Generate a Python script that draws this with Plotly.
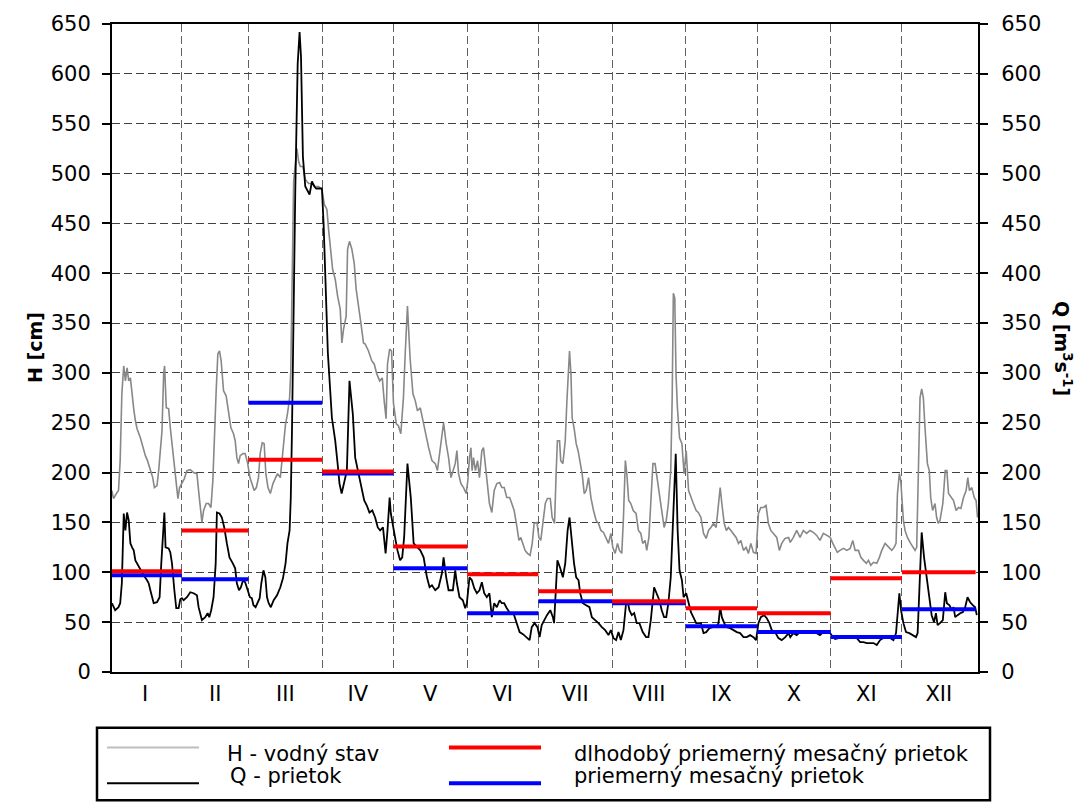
import plotly.graph_objects as go

# ---------------- data ----------------
MONTHS = ["I", "II", "III", "IV", "V", "VI", "VII", "VIII", "IX", "X", "XI", "XII"]
MONTH_EDGES = [0, 31, 59, 90, 120, 151, 181, 212, 243, 273, 304, 334, 365]
LONGTERM_MEAN = [101, 142, 213, 201, 126, 98, 81, 71, 64, 59, 94, 100]   # dlhodobý priemerný mesačný prietok
MONTH_MEAN = [97, 93, 270, 199, 104, 59, 71, 69, 46, 40, 35, 63]        # priemerný mesačný prietok

Q_DAY = [1.5, 2.9, 4.3, 5.0, 5.7, 6.5, 7.2, 7.9, 8.6, 9.3, 10.0, 10.7, 11.4, 12.1, 13.5, 14.9, 16.3, 17.0, 17.7,
         19.1, 20.5, 21.6, 22.3, 23.0, 23.6, 24.1, 25.4, 26.1, 26.8, 27.8, 28.6, 29.6, 30.3, 31.0,
         31.7, 33.1, 34.5, 35.9, 37.3, 38.0, 39.4, 40.8, 41.8, 42.5, 43.3, 44.3, 45.2, 45.7, 46.8, 47.8,
         48.8, 49.9, 51.0, 52.4, 53.4, 54.1, 55.0, 55.8, 56.7, 57.6, 58.8, 59.6,
         60.4, 61.1, 62.0, 62.8, 63.7, 64.4, 65.3, 66.1, 66.8, 67.5, 68.4, 69.6, 71.0, 72.4, 73.5, 74.6,
         75.4, 76.3, 76.8, 77.3, 77.7, 78.7, 79.7, 80.5, 81.1, 81.9, 82.9, 83.9, 84.7, 85.7, 86.7, 87.5,
         88.5, 89.9, 90.6, 91.3, 92.0, 92.4, 94.1, 95.5, 96.5, 97.3, 98.2, 99.3, 100.4, 101.5, 102.9,
         103.9, 105.3, 106.3, 107.7, 108.8, 109.9, 111.1, 112.3, 113.4, 114.4, 115.6, 116.7, 117.5,
         118.4, 118.9, 119.8, 120.9, 121.7, 122.8, 123.7, 124.5, 125.9, 127.3, 128.5, 129.9, 131.3,
         132.7, 134.1, 135.2, 136.2, 137.6, 139.0, 140.4, 141.1, 142.2, 143.2, 145.0, 146.0, 146.7,
         147.8, 149.2, 150.2, 150.9, 152.0, 153.0, 154.0, 155.1, 156.2, 157.2, 158.2, 159.3, 160.4,
         161.4, 162.4, 163.5, 164.7, 165.6, 166.6, 167.7, 169.1, 170.5, 172.0, 173.1, 174.5, 175.9,
         177.3, 178.2, 179.4, 180.6, 181.5, 182.4, 183.4, 184.6, 186.0, 187.1, 187.6, 188.5, 189.0,
         190.2, 191.3, 192.3, 193.3, 194.1, 195.1, 196.0, 196.9, 197.9, 198.6, 199.7, 201.1, 202.5,
         203.5, 204.9, 206.3, 207.7, 209.1, 210.5, 211.5, 212.6, 213.7, 214.7, 215.7, 216.8, 217.9,
         218.5, 219.3, 220.3, 221.3, 222.4, 223.5, 224.9, 226.3, 227.3, 228.3, 229.7, 230.8, 231.9,
         232.9, 233.9, 234.8, 235.7, 236.7, 237.6, 238.3, 238.8, 239.6, 240.4, 241.4, 242.1, 243.2,
         244.2, 245.2, 246.2, 247.4, 248.3, 249.4, 250.5, 251.6, 253.0, 254.4, 255.8, 256.8, 257.5,
         258.2, 259.2, 260.3, 261.7, 263.1, 264.5, 265.9, 267.3, 268.7, 270.1, 271.5, 272.6, 273.6,
         274.6, 276.0, 277.1, 278.2, 279.2, 280.6, 282.0, 283.4, 284.9, 286.3, 287.0, 288.3, 289.7,
         291.1, 292.5, 293.9, 295.3, 296.7, 298.1, 299.5, 300.9, 302.3, 303.8, 304.9, 305.9, 307.3,
         308.6, 310.8, 312.9, 315.0, 316.4, 317.8, 319.2, 320.6, 322.0, 323.4, 324.8, 326.2, 327.6,
         329.0, 330.4, 331.5, 332.9, 333.6, 334.6, 335.7, 337.1, 338.5, 339.9, 340.6, 341.3, 342.3,
         343.3, 344.4, 345.5, 346.5, 347.5, 348.3, 349.0, 350.0, 351.2, 352.2, 352.9, 354.0, 355.0,
         355.7, 356.4, 357.4, 358.5, 359.6, 360.6, 361.6, 362.7, 363.8, 364.8, 365.5]
Q_VAL = [69, 62, 65, 69, 89, 159, 142, 160, 152, 129, 125, 122, 112, 109, 102, 97, 92, 89, 82,
         69, 70, 75, 109, 142, 160, 125, 124, 120, 109, 82, 64, 64, 73, 74,
         72, 75, 80, 79, 77, 65, 52, 55, 59, 55, 62, 75, 109, 160, 159, 155,
         145, 129, 115, 109, 104, 89, 82, 85, 92, 90, 82, 75,
         74, 67, 65, 69, 74, 89, 102, 95, 75, 69, 65, 72, 77, 85, 94, 109,
         129, 142, 175, 242, 320, 484, 610, 642, 617, 517, 487, 482, 479, 492, 487, 485,
         485, 485, 450, 400, 350, 320, 255, 232, 209, 189, 179, 189, 202, 292, 259,
         215, 199, 185, 172, 167, 160, 162, 155, 145, 142, 145, 119, 142,
         175, 159, 145, 132, 122, 112, 115, 135, 209, 175, 129, 125, 122,
         115, 95, 85, 87, 82, 85, 99, 115, 95, 82, 82, 102, 89,
         75, 72, 64, 69, 95, 92, 84, 79, 82, 90, 79, 75, 79,
         55, 69, 65, 72, 69, 69, 64, 59, 59, 49, 40, 38, 35,
         32, 45, 49, 45, 35, 47, 52, 57, 62, 55, 49, 92, 112,
         104, 95, 109, 142, 155, 129, 109, 95, 92, 79, 69, 67, 65,
         55, 52, 49, 45, 42, 37, 42, 34, 32, 40, 32, 42, 69,
         72, 62, 57, 59, 49, 49, 40, 35, 35, 52, 85, 79, 72,
         62, 55, 55, 69, 95, 142, 192, 219, 142, 102, 92, 75, 79,
         69, 60, 55, 49, 49, 49, 39, 40, 44, 45, 45, 49, 65,
         55, 49, 45, 44, 42, 40, 39, 35, 35, 37, 35, 32, 49,
         55, 57, 54, 49, 42, 40, 34, 32, 35, 39, 35, 39, 37,
         40, 39, 40, 39, 40, 39, 37, 40, 39, 39, 35, 33, 34,
         34, 35, 34, 34, 30, 30, 29, 29, 29, 27, 32, 34, 34,
         34, 32, 39, 79, 62, 49, 40, 39, 37, 35, 39, 82, 140,
         115, 92, 75, 57, 50, 59, 47, 49, 52, 80, 69, 67, 62,
         65, 55, 57, 59, 60, 65, 75, 70, 67, 65, 57]

H_DAY = [1.5, 2.2, 3.4, 4.3, 5.0, 5.7, 6.5, 7.2, 7.9, 8.6, 9.3, 10.0, 10.7, 11.4, 12.1, 13.5, 14.6, 15.6,
         16.5, 17.7, 18.7, 19.4, 20.5, 21.2, 21.9, 22.6, 23.3, 23.7, 24.4, 25.4, 26.1, 26.8, 27.8,
         28.6, 29.3, 30.0, 31.0, 32.0, 33.1, 34.5, 35.9, 37.3, 38.0, 38.7, 39.4, 40.1, 41.2, 42.2,
         43.2, 44.0, 44.7, 45.4, 46.1, 46.8, 47.5, 48.5, 49.6, 50.6, 51.6, 52.7, 53.4, 54.1, 54.8,
         55.5, 56.7, 57.6, 58.6, 59.6, 60.4, 61.4, 62.3, 63.2, 63.9, 64.8, 65.6, 66.3, 67.2, 68.2,
         69.3, 70.3, 71.2, 72.4, 73.1, 73.8, 74.6, 75.4, 76.3, 76.8, 77.3, 78.0, 79.4, 80.1, 80.8,
         81.9, 82.9, 84.3, 85.7, 87.1, 88.5, 89.9, 90.9, 92.0, 92.7, 93.4, 94.4, 95.5, 96.5, 97.6,
         98.3, 99.0, 100.1, 100.7, 101.5, 102.5, 103.5, 104.3, 105.3, 106.3, 107.4, 108.1, 109.5,
         110.9, 111.9, 113.0, 114.2, 115.3, 116.1, 116.9, 117.5, 118.4, 119.2, 120.0, 121.2, 122.1,
         123.1, 124.2, 125.0, 125.9, 127.0, 128.2, 129.2, 130.1, 131.3, 132.4, 133.4, 134.8, 136.2,
         137.6, 138.5, 139.7, 141.1, 142.2, 143.2, 144.2, 145.0, 146.0, 146.7, 147.4, 148.4, 149.5,
         150.6, 151.3, 152.0, 152.6, 153.1, 153.7, 154.5, 155.4, 156.2, 157.2, 157.9, 158.7, 159.6,
         160.4, 161.4, 162.4, 163.5, 164.7, 165.6, 166.6, 167.7, 168.9, 169.8, 170.8, 172.0, 172.8,
         173.6, 174.5, 175.4, 176.4, 177.5, 178.4, 179.2, 180.4, 181.2, 182.0, 182.9, 183.9, 184.8,
         186.0, 186.8, 187.8, 188.5, 189.0, 189.9, 190.4, 191.3, 192.3, 193.0, 193.7, 194.1, 194.7,
         195.2, 196.0, 196.9, 197.7, 198.6, 199.4, 200.3, 201.1, 202.1, 203.1, 204.2, 205.3, 206.3,
         207.3, 208.4, 209.5, 210.5, 211.5, 212.3, 213.3, 214.3, 215.1, 216.1, 216.8, 217.6, 218.2,
         219.0, 219.9, 220.9, 222.1, 223.1, 224.1, 224.9, 225.9, 226.6, 227.5, 228.3, 229.2, 230.1,
         231.1, 231.9, 232.9, 233.9, 234.8, 235.7, 236.7, 237.3, 237.8, 238.4, 238.9, 239.5, 240.4,
         241.4, 242.3, 243.2, 244.2, 245.2, 246.2, 247.4, 248.3, 249.4, 250.5, 251.6, 252.6, 253.6,
         254.7, 255.8, 256.8, 257.5, 258.2, 259.2, 260.1, 261.0, 262.0, 263.1, 264.2, 265.2, 266.2,
         267.3, 268.4, 269.4, 270.4, 271.5, 272.6, 273.6, 274.6, 275.7, 276.8, 277.8, 278.8, 279.9,
         281.3, 282.4, 283.4, 284.8, 286.3, 287.0, 288.3, 289.7, 291.1, 292.5, 293.9, 295.3, 296.7,
         298.1, 299.5, 300.9, 302.3, 303.8, 304.9, 305.9, 306.8, 307.9, 309.4, 310.8, 312.2, 313.3,
         314.3, 315.7, 316.7, 317.8, 319.0, 319.9, 320.9, 322.0, 323.4, 324.5, 325.5, 326.9, 328.3,
         329.7, 330.7, 331.5, 332.1, 332.9, 333.5, 334.1, 334.6, 335.3, 336.3, 337.4, 338.5, 339.5,
         340.2, 340.9, 341.6, 342.3, 343.0, 343.7, 344.7, 345.5, 346.1, 346.9, 347.9, 348.6, 349.3,
         350.0, 351.2, 352.2, 352.9, 353.6, 354.6, 355.7, 356.8, 357.8, 358.8, 359.9, 361.0, 361.7,
         362.4, 363.4, 364.4, 365.2, 365.8]
H_VAL = [182, 174, 179, 182, 212, 279, 307, 292, 305, 292, 295, 275, 264, 252, 244, 235, 225, 217,
         212, 202, 195, 185, 187, 202, 219, 242, 299, 307, 265, 264, 245, 229, 202,
         185, 174, 185, 190, 194, 202, 203, 200, 199, 182, 162, 150, 162, 169, 169,
         165, 192, 242, 282, 319, 322, 312, 282, 277, 259, 245, 239, 232, 215, 209,
         217, 219, 219, 210, 195, 189, 182, 185, 195, 219, 230, 229, 199, 185, 179,
         189, 195, 199, 195, 215, 232, 249, 259, 275, 302, 403, 492, 525, 512, 507,
         507, 494, 490, 490, 487, 487, 484, 469, 464, 444, 424, 404, 394, 377, 364,
         330, 344, 357, 424, 432, 424, 410, 384, 364, 350, 330, 329, 322,
         312, 309, 299, 292, 295, 272, 254, 309, 324, 322, 270, 249, 247,
         239, 275, 322, 367, 315, 279, 272, 262, 265, 252, 242, 225, 212,
         209, 202, 225, 250, 229, 215, 195, 202, 209, 222, 199, 189, 185,
         179, 192, 215, 225, 202, 215, 202, 212, 195, 222, 225, 209, 189,
         169, 160, 182, 189, 190, 185, 185, 175, 175, 169, 162, 145, 132,
         135, 129, 122, 119, 117, 129, 149, 150, 135, 132, 152, 169, 174,
         174, 155, 149, 202, 232, 232, 212, 209, 232, 272, 299, 322, 299,
         255, 245, 229, 222, 209, 199, 179, 182, 195, 175, 162, 152, 149,
         142, 140, 135, 129, 139, 125, 119, 129, 122, 119, 155, 212, 199,
         172, 169, 162, 159, 142, 139, 129, 132, 122, 135, 172, 209, 209,
         192, 179, 159, 145, 152, 169, 202, 275, 380, 375, 300, 265, 235,
         229, 199, 222, 182, 175, 169, 162, 160, 155, 139, 134, 142, 145,
         149, 145, 165, 185, 169, 149, 142, 145, 142, 139, 135, 129, 132,
         122, 125, 119, 129, 120, 119, 159, 165, 165, 167, 149, 142, 139,
         135, 122, 129, 134, 135, 130, 135, 142, 135, 142, 139, 142, 140,
         137, 132, 139, 137, 135, 129, 124, 120, 122, 124, 122, 124, 132,
         122, 122, 115, 112, 109, 112, 107, 110, 109, 115, 122, 129, 125,
         122, 125, 129, 179, 199, 192, 175, 152, 142, 135, 130, 125, 122,
         125, 209, 275, 284, 275, 245, 209, 202, 175, 162, 169, 155, 149,
         152, 169, 202, 202, 179, 175, 172, 162, 165, 164, 175, 182, 195,
         182, 185, 175, 172, 155]

# ---------------- geometry helpers (layout only) ----------------
W, HGT = 1085, 803
ML, MR, MT, MB = 112, 107, 20, 131
PW, PH = W - ML - MR, HGT - MT - MB


def px(x):
    return (x - ML) / PW


def py(y):
    return (HGT - MB - y) / PH


FONT = "DejaVu Sans"

fig = go.Figure()

fig.add_trace(go.Scatter(x=H_DAY, y=H_VAL, mode="lines", name="H - vodný stav",
                         line=dict(color="#888888", width=1.6), yaxis="y"))
fig.add_trace(go.Scatter(x=Q_DAY, y=Q_VAL, mode="lines", name="Q - prietok",
                         line=dict(color="black", width=1.8), yaxis="y2"))


def steps(vals):
    xs, ys = [], []
    for i, v in enumerate(vals):
        xs += [MONTH_EDGES[i], MONTH_EDGES[i + 1], None]
        ys += [v, v, None]
    return xs, ys


bx, byv = steps(MONTH_MEAN)
rx, ryv = steps(LONGTERM_MEAN)
fig.add_trace(go.Scatter(x=bx, y=byv, mode="lines", name="priemerný mesačný prietok",
                         line=dict(color="#0000ff", width=4), yaxis="y2"))
fig.add_trace(go.Scatter(x=rx, y=ryv, mode="lines", name="dlhodobý priemerný mesačný prietok",
                         line=dict(color="#ff0000", width=4), yaxis="y2"))

centers = [(MONTH_EDGES[i] + MONTH_EDGES[i + 1]) / 2 for i in range(12)]

fig.update_layout(
    width=W, height=HGT,
    margin=dict(l=ML, r=MR, t=MT, b=MB),
    plot_bgcolor="white", paper_bgcolor="white",
    showlegend=False,
    font=dict(family=FONT, size=20, color="black"),
    xaxis=dict(
        range=[1.56, 366], tickmode="array", tickvals=centers, ticktext=MONTHS,
        ticks="", showgrid=False, zeroline=False,
        showline=True, linecolor="black", linewidth=2, mirror=True,
        ticklabelstandoff=2, tickfont=dict(size=21),
        minor=dict(tickmode="array", tickvals=MONTH_EDGES[1:-1], showgrid=True,
                   gridcolor="#606060", griddash="8px,4px", gridwidth=1.3, ticks=""),
    ),
    yaxis=dict(
        range=[0, 650], tickmode="linear", tick0=0, dtick=50,
        ticks="outside", ticklen=8, tickwidth=1.5, tickcolor="black",
        showgrid=True, gridcolor="#404040", griddash="8px,4px", gridwidth=1.2,
        zeroline=False, showline=True, linecolor="black", linewidth=2,
        ticklabelstandoff=7, tickfont=dict(size=21),
    ),
    yaxis2=dict(
        range=[0, 650], tickmode="linear", tick0=0, dtick=50, overlaying="y", side="right",
        ticks="outside", ticklen=8, tickwidth=1.5, tickcolor="black",
        showgrid=False, zeroline=False, showline=True, linecolor="black", linewidth=2,
        ticklabelstandoff=9, tickfont=dict(size=21),
    ),
)

# axis titles
fig.add_annotation(x=px(35), y=py(346), xref="paper", yref="paper", text="<b>H [cm]</b>",
                   textangle=-90, showarrow=False, xanchor="center", yanchor="middle",
                   font=dict(family=FONT, size=19))
fig.add_annotation(x=px(1063), y=py(346), xref="paper", yref="paper",
                   text="<b>Q [m<sup>3</sup>s<sup>-1</sup>]</b>",
                   textangle=90, showarrow=False, xanchor="center", yanchor="middle",
                   font=dict(family=FONT, size=19))

# legend (drawn manually)
shapes = [
    dict(type="rect", xref="paper", yref="paper", x0=px(97), x1=px(990), y0=py(728), y1=py(801),
         line=dict(color="black", width=2.5), fillcolor="rgba(0,0,0,0)"),
    dict(type="line", xref="paper", yref="paper", x0=px(107), x1=px(199), y0=py(748), y1=py(748),
         line=dict(color="#bdbdbd", width=2)),
    dict(type="line", xref="paper", yref="paper", x0=px(107), x1=px(199), y0=py(784), y1=py(784),
         line=dict(color="black", width=2)),
    dict(type="line", xref="paper", yref="paper", x0=px(449), x1=px(541), y0=py(748), y1=py(748),
         line=dict(color="#ff0000", width=4)),
    dict(type="line", xref="paper", yref="paper", x0=px(449), x1=px(541), y0=py(784), y1=py(784),
         line=dict(color="#0000ff", width=4)),
]
fig.update_layout(shapes=shapes)

leg_texts = [
    ("H - vodný stav", 225, 755),
    ("Q - prietok", 228, 777),
    ("dlhodobý priemerný mesačný prietok", 572, 755),
    ("priemerný mesačný prietok", 572, 777),
]
for t, x0, y0 in leg_texts:
    fig.add_annotation(x=px(x0), y=py(y0), xref="paper", yref="paper", text=t, showarrow=False,
                       xanchor="left", yanchor="middle", font=dict(family=FONT, size=21))

fig.write_html("out.html")
